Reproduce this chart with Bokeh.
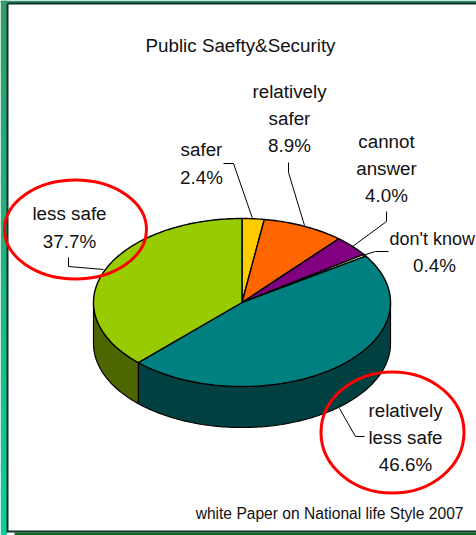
import math
from bokeh.plotting import figure
from bokeh.models import Range1d
from bokeh.core.properties import value
from bokeh.embed import file_html
from bokeh.resources import INLINE

title = "Public Saefty&Security"
source_note = "white Paper on National life Style 2007"
categories = ["safer", "relatively safer", "cannot answer", "don't know", "relatively less safe", "less safe"]
shares = [2.4, 8.9, 4.0, 0.4, 46.6, 37.7]
top_colors = ["#FFCC00", "#FF6600", "#800080", "#CCFFCC", "#008080", "#99CC00"]
side_colors = ["#806600", "#803300", "#400040", "#668066", "#004040", "#4D6600"]

CX, CY, RX, RY, DEPTH = 241.5, 302, 148.5, 84, 41
FONT = value("Liberation Sans")
W, H = 476, 535

p = figure(width=W, height=H, x_range=Range1d(0, W), y_range=Range1d(H, 0),
           toolbar_location=None, output_backend="svg", min_border=0,
           background_fill_color="white", border_fill_color="white", outline_line_color=None)
p.axis.visible = False
p.grid.visible = False

# slide background: green strip at left (lightening downward) and top, dark band at bottom
bands = 24
c0, c1 = (46, 158, 107), (16, 204, 153)
for b in range(bands):
    t = b / (bands - 1)
    col = "#%02X%02X%02X" % tuple(round(u + (v - u) * t) for u, v in zip(c0, c1))
    p.quad(left=[0], right=[6.5], top=[H * b / bands], bottom=[H * (b + 1) / bands + 1],
           fill_color=col, line_color=None)
p.quad(left=[0], right=[W], top=[0], bottom=[2.5], fill_color="#2E9467", line_color=None)
p.quad(left=[14], right=[W], top=[532], bottom=[H], fill_color="#0B6B1E", line_color=None)
p.line([7, 7], [3, 532], line_color="#10302A", line_width=2)
p.line([7, W], [3, 3], line_color="#10302A", line_width=2)
p.line([7, W], [531, 531], line_color="#10302A", line_width=2)


def pt(deg, dy=0):
    a = math.radians(deg)
    return CX + RX * math.sin(a), CY - RY * math.cos(a) + dy


def arc(a0, a1):
    n = max(2, int(abs(a1 - a0)) + 2)
    return [pt(a0 + (a1 - a0) * i / (n - 1)) for i in range(n)]


# slice boundaries, clockwise from 12 o'clock
bounds = [0.0]
for s in shares:
    bounds.append(bounds[-1] + s * 3.6)

# side walls: the part of each slice in the front half
for i in range(len(shares)):
    a0, a1 = max(bounds[i], 90), min(bounds[i + 1], 270)
    if a1 <= a0:
        continue
    top = arc(a0, a1)
    xs = [q[0] for q in top] + [q[0] for q in reversed(top)]
    ys = [q[1] for q in top] + [q[1] + DEPTH for q in reversed(top)]
    p.patch(xs, ys, fill_color=side_colors[i], line_color="black", line_width=1.2)

# top faces
for i in range(len(shares)):
    top = arc(bounds[i], bounds[i + 1])
    xs = [CX] + [q[0] for q in top]
    ys = [CY] + [q[1] for q in top]
    p.patch(xs, ys, fill_color=top_colors[i], line_color="black", line_width=1.4)

# leader lines
leaders = [
    ([223, 233, 252], [163, 163, 218]),
    ([288, 288, 304], [162, 172, 225]),
    ([386, 386, 352], [211, 221, 246]),
    ([388, 375, 362], [251, 251, 255]),
    ([68, 68, 103], [257, 266, 269]),
    ([339, 355, 364], [408, 436, 436]),
]
for lx, ly in leaders:
    p.line(lx, ly, line_color="black", line_width=1)

# labels
labels = [
    (201, 149, "safer"), (201, 177, "2.4%"),
    (289, 91, "relatively"), (289, 118, "safer"), (289, 145, "8.9%"),
    (386, 141, "cannot"), (386, 168, "answer"), (386, 195, "4.0%"),
    (434, 265, "0.4%"),
    (69, 213, "less safe"), (69, 241, "37.7%"),
    (405, 410, "relatively"), (405, 437, "less safe"), (405, 464, "46.6%"),
]
p.text([l[0] for l in labels], [l[1] for l in labels], text=[l[2] for l in labels],
       text_font=FONT, text_font_size="18.8px", text_color="#111111",
       text_align="center", text_baseline="middle")
p.text([389], [238], text=["don't know"], text_font=FONT, text_font_size="18px", text_color="#111111",
       text_align="left", text_baseline="middle")
p.text([240], [45], text=[title], text_font=FONT, text_font_size="18.8px", text_color="#111111",
       text_align="center", text_baseline="middle")
p.text([463], [513], text=[source_note], text_font=FONT, text_font_size="15.6px", text_color="#111111",
       text_align="right", text_baseline="middle")

# hand-drawn red circles
p.ellipse([75, 392], [229, 432], width=[142, 143], height=[99, 121], fill_color=None,
          line_color="#FF0000", line_width=3)

open("out.html", "w").write(file_html(p, INLINE))
